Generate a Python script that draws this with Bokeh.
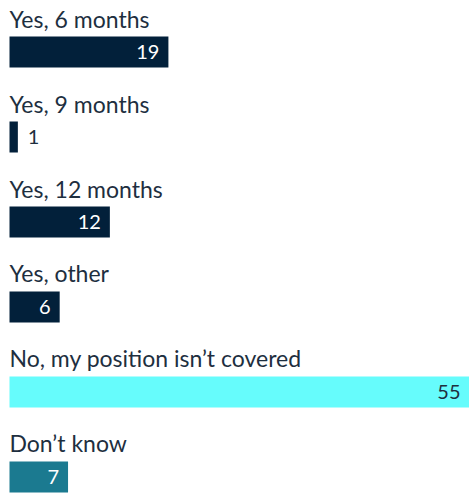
from bokeh.plotting import figure
from bokeh.models import ColumnDataSource, Range1d
from bokeh.core.properties import value
from bokeh.embed import file_html
from bokeh.resources import INLINE

categories = ["Yes, 6 months", "Yes, 9 months", "Yes, 12 months", "Yes, other",
              "No, my position isn\u2019t covered", "Don\u2019t know"]
values = [19, 1, 12, 6, 55, 7]
colors = ["#02203a", "#02203a", "#02203a", "#02203a", "#66fcfc", "#1b7a90"]
label_colors = ["#ffffff", "#1e2f3f", "#ffffff", "#ffffff", "#1e2f3f", "#ffffff"]

n = len(categories)
ys = list(range(n))
bar_h = 31 / 85
gap = 18 / 85

inside = [v >= 3 for v in values]
src = ColumnDataSource(dict(
    y=ys, right=values, color=colors, cat=categories,
    ty=[y - bar_h / 2 - gap for y in ys],
))
in_src = ColumnDataSource(dict(
    x=[v for v, ins in zip(values, inside) if ins],
    y=[y for y, ins in zip(ys, inside) if ins],
    t=[str(v) for v, ins in zip(values, inside) if ins],
    c=[c for c, ins in zip(label_colors, inside) if ins],
))
out_src = ColumnDataSource(dict(
    x=[v for v, ins in zip(values, inside) if not ins],
    y=[y for y, ins in zip(ys, inside) if not ins],
    t=[str(v) for v, ins in zip(values, inside) if not ins],
    c=[c for c, ins in zip(label_colors, inside) if not ins],
))

p = figure(width=469, height=494, output_backend="svg", toolbar_location=None,
           x_range=Range1d(-1.076, 55.0), y_range=Range1d(5.206, -0.606),
           min_border=0, min_border_left=0, min_border_right=0,
           min_border_top=0, min_border_bottom=0)
p.axis.visible = False
p.grid.visible = False
p.outline_line_color = None
p.background_fill_color = "#ffffff"
p.border_fill_color = "#ffffff"

p.hbar(y="y", left=0, right="right", height=bar_h, color="color", source=src, line_color=None)

p.text(x=0, y="ty", text="cat", source=src, text_font=value("Lato"),
       text_font_size="23px", text_color="#1e2f3f", text_baseline="alphabetic",
       text_align="left")

p.text(x="x", y="y", text="t", source=in_src, text_font=value("Lato"),
       text_font_size="20px", text_color="c", text_baseline="middle",
       text_align="right", x_offset=-9)
p.text(x="x", y="y", text="t", source=out_src, text_font=value("Lato"),
       text_font_size="20px", text_color="c", text_baseline="middle",
       text_align="left", x_offset=10)

open("out.html", "w").write(file_html(p, INLINE))
